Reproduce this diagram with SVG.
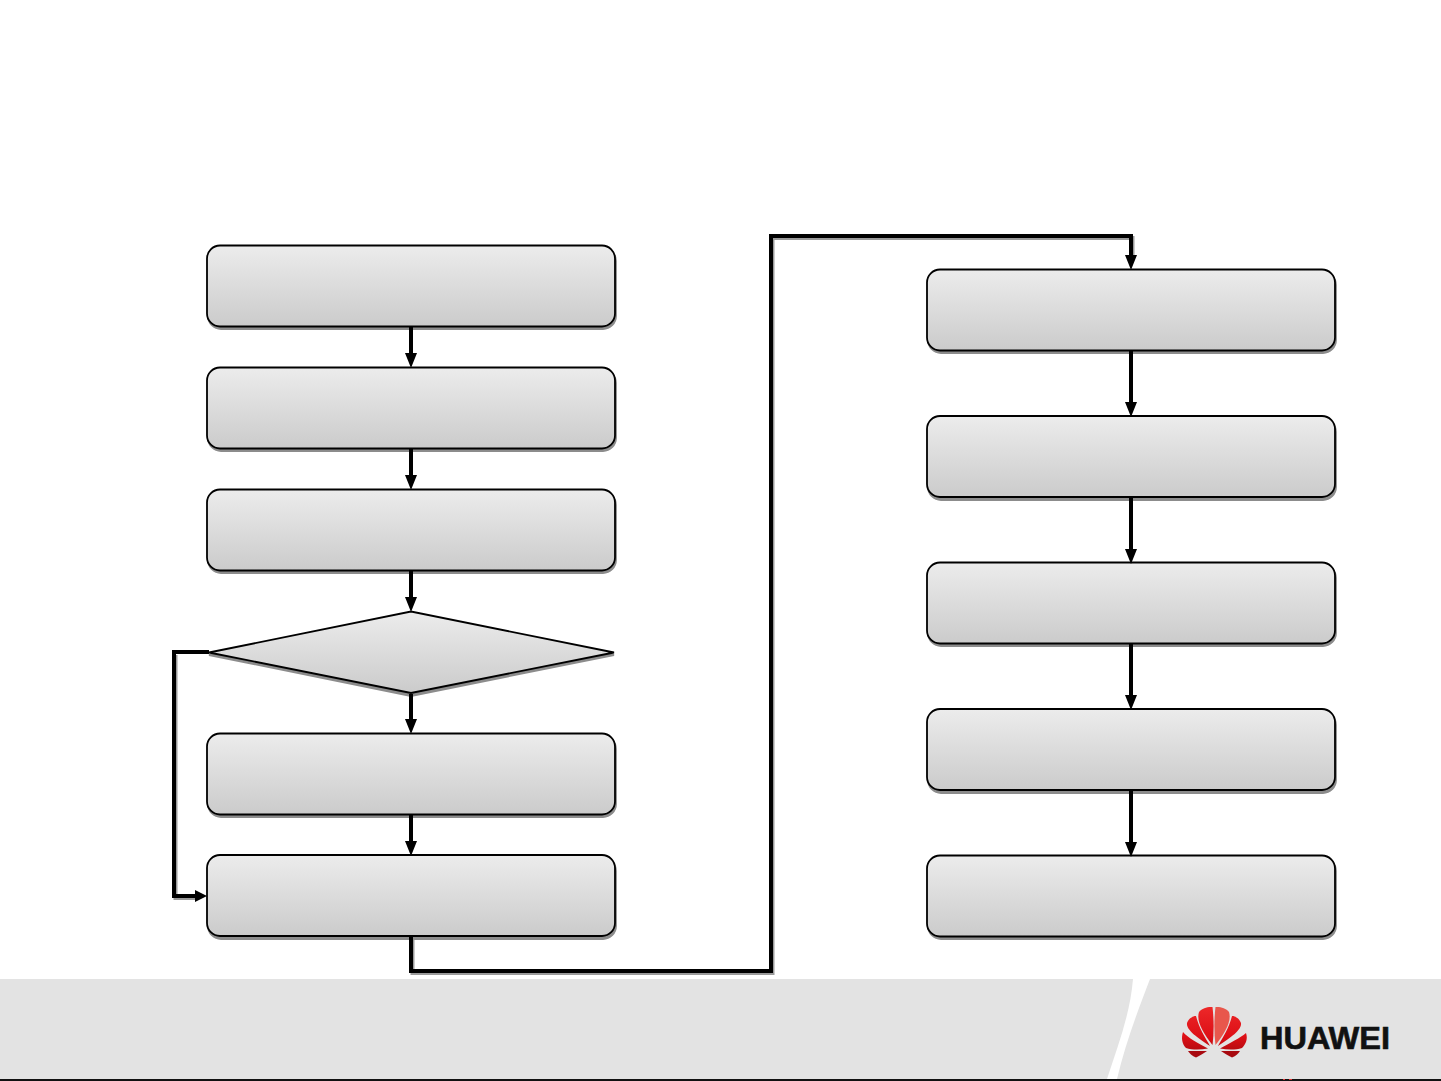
<svg xmlns="http://www.w3.org/2000/svg" width="1441" height="1081" viewBox="0 0 1441 1081">
<style>
.box{fill:url(#g);stroke:#000;stroke-width:1.8}
.sh{fill:#8c8c8c;stroke:#8c8c8c;stroke-width:1.8}
.c{fill:none;stroke:#000;stroke-width:4;stroke-linejoin:miter}
.cs{fill:none;stroke:#9a9a9a;stroke-width:4}
.h{fill:#000}
.p{fill:url(#r)}
</style>
<defs>
<linearGradient id="g" x1="0" y1="0" x2="0" y2="1"><stop offset="0" stop-color="#ececec"/><stop offset="1" stop-color="#cbcbcb"/></linearGradient>
<linearGradient id="r" gradientUnits="userSpaceOnUse" x1="1214" y1="1005" x2="1214" y2="1058"><stop offset="0" stop-color="#ee2a2a"/><stop offset=".6" stop-color="#dd0f16"/><stop offset="1" stop-color="#a00a0e"/></linearGradient>
<rect id="bx" width="408" height="81" rx="13" ry="13"/>
<path id="ad" d="M-6-13H6L0 2Z"/>
</defs>
<rect width="1441" height="1081" fill="#fff"/>
<g id="footer">
<rect x="0" y="979" width="1441" height="100" fill="#e3e3e3"/>
<path d="M1133 979H1150C1138 1010 1125 1045 1117 1079H1107C1118 1045 1130 1015 1133 979Z" fill="#fff"/>
<rect x="0" y="1079" width="1441" height="2" fill="#111"/>
<rect x="1283" y="1079" width="2" height="1" fill="#d33"/><rect x="1289" y="1079" width="3" height="1" fill="#d33"/>
</g>
<g id="node1"><use href="#bx" class="sh" x="208" y="248"/><rect class="box" x="207" y="245.500" width="408" height="81" rx="13"/></g>
<g id="node2"><use href="#bx" class="sh" x="208" y="370"/><rect class="box" x="207" y="367.500" width="408" height="81" rx="13"/></g>
<g id="node3"><use href="#bx" class="sh" x="208" y="492"/><rect class="box" x="207" y="489.500" width="408" height="81" rx="13"/></g>
<g id="decision"><path class="sh" d="M209 655L411 614L614 655L411 696Z"/><path class="box" d="M209 652.500L411 611.500L614 652.500L411 693L411 693Z"/></g>
<g id="node4"><use href="#bx" class="sh" x="208" y="736"/><rect class="box" x="207" y="733.500" width="408" height="81" rx="13"/></g>
<g id="node5"><use href="#bx" class="sh" x="208" y="858"/><rect class="box" x="207" y="855" width="408" height="81" rx="13"/></g>
<g id="node6"><use href="#bx" class="sh" x="928" y="272"/><rect class="box" x="927" y="269.500" width="408" height="81" rx="13"/></g>
<g id="node7"><use href="#bx" class="sh" x="928" y="419"/><rect class="box" x="927" y="416" width="408" height="81" rx="13"/></g>
<g id="node8"><use href="#bx" class="sh" x="928" y="565"/><rect class="box" x="927" y="562.500" width="408" height="81" rx="13"/></g>
<g id="node9"><use href="#bx" class="sh" x="928" y="712"/><rect class="box" x="927" y="709" width="408" height="81" rx="13"/></g>
<g id="node10"><use href="#bx" class="sh" x="928" y="858"/><rect class="box" x="927" y="855.500" width="408" height="81" rx="13"/></g>
<g id="connectors">
<g transform="translate(1.500 2)">
<path class="cs" d="M174 653V896H196"/>
<path class="cs" d="M411 938V971H771V236H1131V258"/>
</g>
<path class="c" d="M411 327V356"/><use href="#ad" class="h" x="411" y="366"/>
<path class="c" d="M411 449V478"/><use href="#ad" class="h" x="411" y="488"/>
<path class="c" d="M411 571V600"/><use href="#ad" class="h" x="411" y="610"/>
<path class="c" d="M411 694V722"/><use href="#ad" class="h" x="411" y="732"/>
<path class="c" d="M411 815V844"/><use href="#ad" class="h" x="411" y="854"/>
<path class="c" d="M209 652H174V896H196"/><path class="h" d="M195 890L207 896L195 902Z"/>
<path class="c" d="M411 937V971H771V236H1131V258"/><use href="#ad" class="h" x="1131" y="268"/>
<path class="c" d="M1131 351V405"/><use href="#ad" class="h" x="1131" y="415"/>
<path class="c" d="M1131 498V552"/><use href="#ad" class="h" x="1131" y="562"/>
<path class="c" d="M1131 644V698"/><use href="#ad" class="h" x="1131" y="708"/>
<path class="c" d="M1131 791V845"/><use href="#ad" class="h" x="1131" y="855"/>
</g>
<g id="logo">
<path class="p" d="M1212.500 1045C1203 1033 1196 1021 1199 1012C1202 1008 1208 1006.500 1212.500 1007C1214 1020 1214 1033 1212.500 1045Z"/>
<path class="p" d="M1215.500 1045C1225 1033 1232 1021 1229 1012C1226 1008 1220 1006.500 1215.500 1007C1214 1020 1214 1033 1215.500 1045Z" style="fill:#e8574c"/>
<path class="p" d="M1210 1046C1198 1038 1186 1030 1187 1023C1189 1018 1193 1016 1196 1016C1199 1028 1205 1037 1210 1046Z"/>
<path class="p" d="M1218 1046C1230 1038 1242 1030 1241 1023C1239 1018 1235 1016 1232 1016C1229 1028 1223 1037 1218 1046Z"/>
<path class="p" d="M1208 1048.500C1198 1043 1188 1038 1183 1032C1181 1038 1182 1044 1186 1048C1192 1050 1200 1050 1208 1048.500Z"/>
<path class="p" d="M1220 1048.500C1230 1043 1240 1038 1246 1033C1248 1039 1246 1044 1242 1048C1236 1050 1228 1050 1220 1048.500Z"/>
<path d="M1188 1051H1207C1203 1054 1199 1056 1196 1057.500C1192 1056 1190 1054 1188 1051Z" fill="#a80a10"/>
<path d="M1240 1051H1221C1225 1054 1229 1056 1232 1057.500C1236 1056 1238 1054 1240 1051Z" fill="#a80a10"/>
<text x="1260" y="1049" font-family="'Liberation Sans',Arial,sans-serif" font-weight="700" font-size="31" textLength="130" lengthAdjust="spacingAndGlyphs" fill="#111" stroke="#111" stroke-width=".6">HUAWEI</text>
</g>
</svg>
